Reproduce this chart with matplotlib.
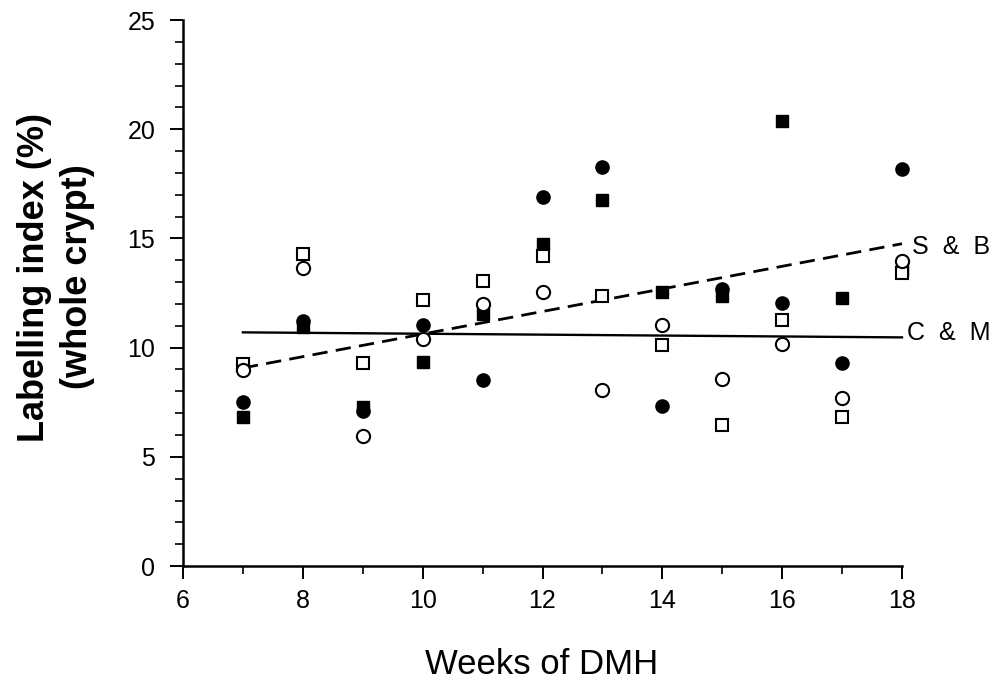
import matplotlib
matplotlib.use("Agg")
import matplotlib.pyplot as plt
from matplotlib.ticker import MultipleLocator

plt.rcParams['font.family'] = ['Liberation Sans', 'DejaVu Sans']

weeks = [7, 8, 9, 10, 11, 12, 13, 14, 15, 16, 17, 18]
filled_circle = [7.5, 11.2, 7.1, 11.03, 8.54, 16.9, 18.28, 7.35, 12.68, 12.04, 9.28, 18.2]
filled_square = [6.82, 10.95, 7.3, 9.33, 11.54, 14.73, 16.74, 12.53, 12.37, 20.4, 12.27, 13.55]
open_circle = [8.98, 13.67, 5.94, 10.4, 12.02, 12.53, 8.07, 11.05, 8.57, 10.17, 7.7, 13.95]
open_square = [9.26, 14.3, 9.3, 12.19, 13.06, 14.2, 12.37, 10.14, 6.48, 11.26, 6.82, 13.4]

sb_x = [7, 18]
sb_y = [9.07, 14.76]
cm_x = [7, 18]
cm_y = [10.7, 10.47]

x_ticks = [6, 8, 10, 12, 14, 16, 18]
y_ticks = [0, 5, 10, 15, 20, 25]

fig = plt.figure(figsize=(10, 6.79), dpi=100)
ax = fig.add_axes([0.183, 0.1664, 0.719, 0.804])

ax.plot(cm_x, cm_y, color='black', lw=1.7, zorder=2, clip_on=False)
ax.plot(sb_x, sb_y, color='black', lw=2.0, ls=(0, (5.5, 3)), zorder=2, clip_on=False)

ax.plot(weeks, filled_square, ls='none', marker='s', ms=9, mfc='black', mec='black', mew=1.0,
        zorder=3, clip_on=False)
ax.plot(weeks, filled_circle, ls='none', marker='o', ms=9.5, mfc='black', mec='black', mew=1.0,
        zorder=3, clip_on=False)
ax.plot(weeks, open_square, ls='none', marker='s', ms=9, mfc='white', mec='black', mew=1.5,
        zorder=4, clip_on=False)
ax.plot(weeks, open_circle, ls='none', marker='o', ms=9.5, mfc='white', mec='black', mew=1.5,
        zorder=5, clip_on=False)

ax.text(18.17, 14.6, 'S  &  B', fontsize=18, va='center', ha='left')
ax.text(18.09, 10.66, 'C  &  M', fontsize=18, va='center', ha='left')

ax.set_xlim(6, 18)
ax.set_ylim(0, 25)
ax.set_xticks(x_ticks)
ax.set_yticks(y_ticks)
ax.xaxis.set_minor_locator(MultipleLocator(1))
ax.yaxis.set_minor_locator(MultipleLocator(1))

for s in ['top', 'right']:
    ax.spines[s].set_visible(False)
for s in ['left', 'bottom']:
    ax.spines[s].set_linewidth(1.8)

ax.tick_params(which='major', direction='out', length=9.5, width=1.4, labelsize=18, pad=7)
ax.tick_params(which='minor', direction='out', length=5.5, width=1.2)
ax.tick_params(axis='y', which='major', pad=10.5)

fig.text(0.542, 1 - 674 / 679, 'Weeks of DMH', fontsize=25, ha='center', va='baseline')
fig.text(0.056, 0.592, 'Labelling index (%)\n(whole crypt)', fontsize=26, fontweight='bold',
         rotation=90, ha='center', va='center', multialignment='center', linespacing=1.28)

fig.savefig('out.png', dpi=100, facecolor='white')
